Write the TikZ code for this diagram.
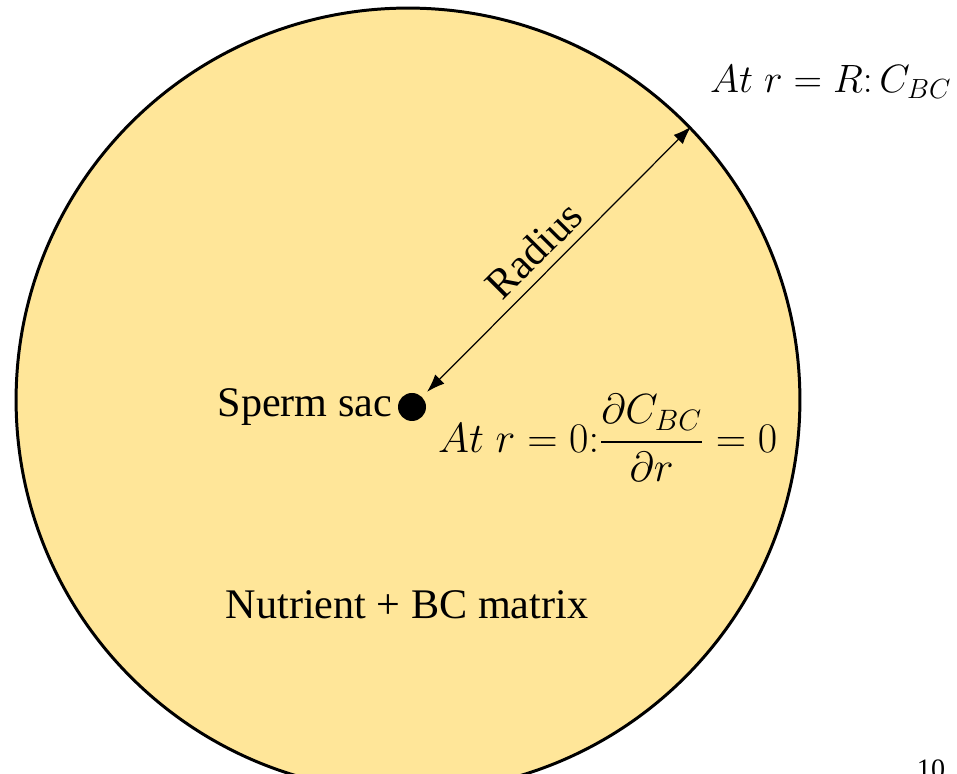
\RequirePackage{fix-cm}
\documentclass[tikz,border=0pt]{standalone}
\usepackage{amsmath}
\usepackage{fontspec}
\setmainfont{Liberation Serif}
\usepackage{tikz}
\usetikzlibrary{arrows.meta,positioning}
\definecolor{matrixfill}{RGB}{255,230,153}

\begin{document}
\begin{tikzpicture}[x=0.02cm, y=0.02cm, >={Latex[length=0.36cm,width=0.26cm]}, font=\fontsize{24}{28}\selectfont]
  \useasboundingbox (0,0) rectangle (957,774);
  \node[circle, draw, line width=1.7pt, fill=matrixfill, minimum size=15.68cm, inner sep=0pt] (sac) at (408,374) {};
  \node[circle, fill=black, minimum size=0.56cm, inner sep=0pt] (sperm) at (412,367) {};
  \node[left=1pt of sperm, inner sep=2pt] (saclabel) {Sperm sac};
  \node (medium) at (407,169) {Nutrient + BC matrix};
  \coordinate (rim) at (sac.44);
  \draw[<->, line width=0.7pt, shorten <=0.14cm] (sperm) -- node[sloped, above, pos=0.48, inner sep=5pt] {Radius} (rim);
  \node[anchor=west, font=\fontsize{22.5}{27}\selectfont] (outerbc) at (704,692) {$At\;r = R\mathpunct{:}C_{BC}$};
  \node[anchor=west, font=\fontsize{24}{29}\selectfont] (innerbc) at (432,336) {$At\;r = 0{:}\dfrac{\partial C_{BC}}{\partial r} = 0$};
  \node[anchor=base, font=\fontsize{16}{18}\selectfont] (pagenum) at (931,-5) {10};
\end{tikzpicture}
\end{document}
